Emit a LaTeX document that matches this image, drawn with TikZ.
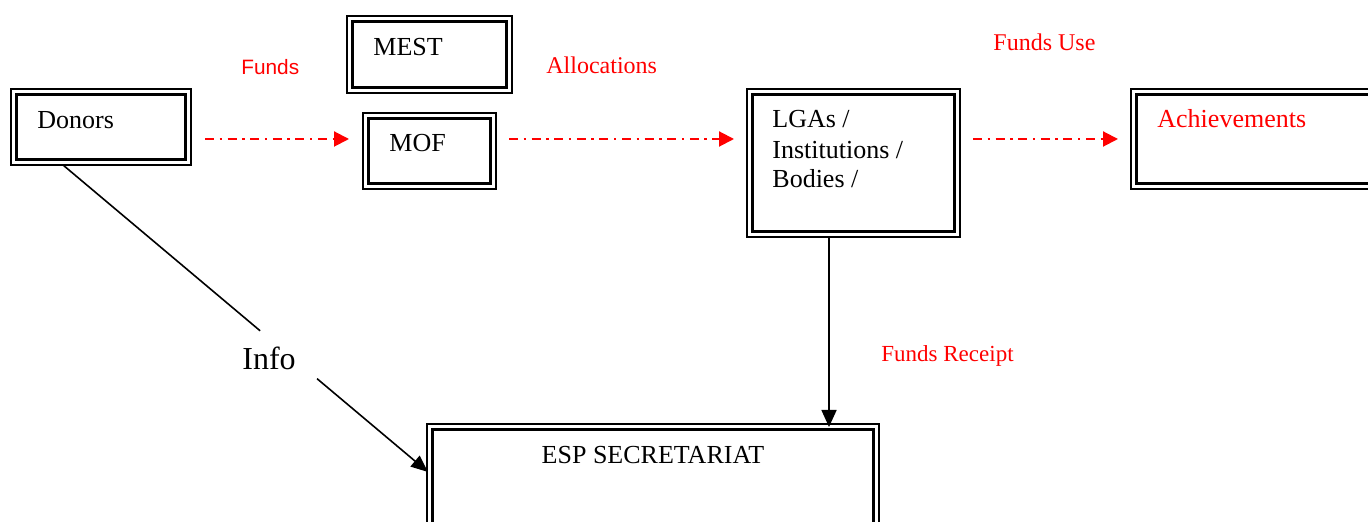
\documentclass[tikz,border=0pt]{standalone}
\usepackage{fontspec}
\setmainfont{Liberation Serif}
\newfontfamily\sansf{Liberation Sans}
\usetikzlibrary{arrows.meta,calc}
\tikzset{
  box/.style={draw, line width=1.2pt, inner sep=0pt, outer sep=0pt, anchor=north west},
  innerbox/.style={draw, line width=1.6pt},
  txt/.style={anchor=base west, inner sep=0pt, font=\fontsize{13pt}{15pt}\selectfont},
  redlbl/.style={anchor=base west, inner sep=0pt, text=red, font=\fontsize{12pt}{14pt}\selectfont},
  fundflow/.style={red, line width=1pt, dash pattern=on 4.5pt off 2.8pt on 1.2pt off 2.8pt, -{Triangle[length=7.5pt,width=7.5pt]}},
  infoflow/.style={black, line width=0.8pt},
}
\begin{document}
\begin{tikzpicture}[x=0.5pt,y=-0.5pt]
\useasboundingbox (0,0) rectangle (1368,522);
\clip (0,0) rectangle (1368,522);
% boxes
\node[box, minimum width=90pt, minimum height=38pt] (donors) at (11,89) {};
\node[box, minimum width=82.5pt, minimum height=38.5pt] (mest) at (347,16) {};
\node[box, minimum width=66.5pt, minimum height=38pt] (mof) at (363,113) {};
\node[box, minimum width=106.5pt, minimum height=74pt] (lgas) at (747,89) {};
\node[box, minimum width=129.5pt, minimum height=50pt] (ach) at (1131,89) {};
\node[box, minimum width=226pt, minimum height=58pt] (esp) at (427,424) {};
\foreach \n in {donors,mest,mof,lgas,ach,esp}
  \draw[innerbox] ([xshift=2.7pt,yshift=-2.7pt]\n.north west) rectangle ([xshift=-2.7pt,yshift=2.7pt]\n.south east);
% texts
\node[txt] (tdonors) at (37,129) {Donors};
\node[txt] (tmest) at (373,56) {MEST};
\node[txt] (tmof) at (389,152) {MOF};
\node[txt] (tlga1) at (772,128) {LGAs /};
\node[txt] (tlga2) at (772,159) {Institutions /};
\node[txt] (tlga3) at (772,188) {Bodies /};
\node[txt, text=red] (tach) at (1157,128) {Achievements};
\node[txt, anchor=base] (tesp) at (653,464) {ESP SECRETARIAT};
% labels
\node[anchor=base west, inner sep=0pt, text=red, font=\sansf\fontsize{10.4pt}{12pt}\selectfont] (lfunds) at (241,75) {Funds};
\node[redlbl] (lalloc) at (546,74) {Allocations};
\node[redlbl] (luse) at (993,51) {Funds Use};
\node[redlbl, font=\fontsize{11.5pt}{14pt}\selectfont] (lreceipt) at (881,362) {Funds Receipt};
\node[anchor=base west, inner sep=0pt, font=\fontsize{16pt}{18pt}\selectfont] (linfo) at (242,370) {Info};
% red flows
\draw[fundflow] ($(donors.north east)+(14,50)$) -- ($(mof.north west)+(-14,26)$);
\draw[fundflow] ($(mof.north east)+(13,26)$) -- ($(lgas.north west)+(-13,50)$);
\draw[fundflow] ($(lgas.north east)+(13,50)$) -- ($(ach.north west)+(-13,50)$);
% info line
\coordinate (ia) at ($(donors.south west)+(52,0)$);
\coordinate (ib) at ($(esp.north west)+(1,48)$);
\draw[infoflow] (ia) -- ($(ia)!0.54!(ib)$);
\draw[infoflow, -{Triangle[length=8.5pt,width=7pt]}] ($(ia)!0.696!(ib)$) -- (ib);
% funds receipt
\coordinate (ra) at ($(lgas.south west)+(82,0)$);
\draw[infoflow, -{Triangle[length=8.5pt,width=7.5pt]}] (ra) -- ($(ra |- esp.north)+(0,3)$);
\end{tikzpicture}
\end{document}
